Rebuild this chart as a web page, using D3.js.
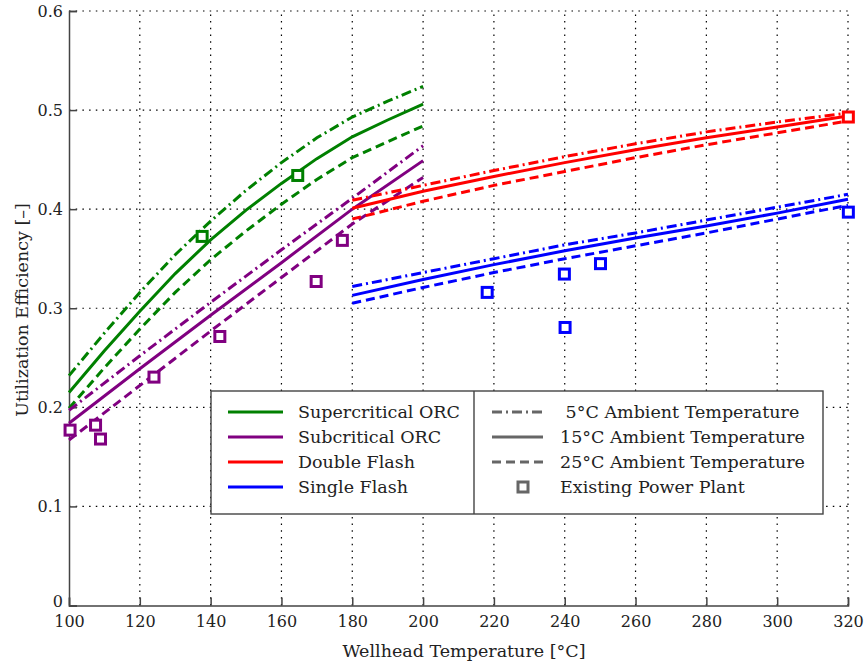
<!DOCTYPE html>
<html>
<head>
<meta charset="utf-8">
<script src="https://cdn.jsdelivr.net/npm/d3@7/dist/d3.min.js"></script>
<style>
    body { margin: 0; background: #fff; }
    svg text {
        font-family: "DejaVu Serif", "Liberation Serif", serif;
        fill: #222;
    }
    .grid line {
        stroke: #000;
        stroke-width: 1.2;
        stroke-dasharray: 1.5,5.2;
    }
    .axis-line {
        stroke: #444;
        stroke-width: 1.5;
        fill: none;
    }
</style>
</head>
<body>
<svg id="svg" width="865" height="668"></svg>
<script>
// wellhead temperature (°C) for each model series
const orcTemps = [100, 110, 120, 130, 140, 150, 160, 170, 180, 190, 200];
const subTemps = [100, 120, 140, 160, 180, 200];
const flashTemps = [180, 200, 220, 240, 260, 280, 300, 320];

// utilization efficiency, by ambient temperature 5 / 15 / 25 °C
const superOrc5  = [0.232, 0.275, 0.316, 0.354, 0.388, 0.419, 0.447, 0.472, 0.493, 0.509, 0.524];
const superOrc15 = [0.215, 0.257, 0.297, 0.335, 0.369, 0.399, 0.426, 0.451, 0.473, 0.490, 0.506];
const superOrc25 = [0.199, 0.240, 0.279, 0.316, 0.349, 0.378, 0.405, 0.430, 0.452, 0.468, 0.484];

const subOrc5  = [0.197, 0.252, 0.306, 0.359, 0.411, 0.464];
const subOrc15 = [0.184, 0.239, 0.293, 0.346, 0.400, 0.449];
const subOrc25 = [0.167, 0.222, 0.277, 0.331, 0.385, 0.432];

const doubleFlash5  = [0.409, 0.424, 0.439, 0.453, 0.466, 0.478, 0.488, 0.497];
const doubleFlash15 = [0.401, 0.418, 0.433, 0.447, 0.460, 0.472, 0.483, 0.494];
const doubleFlash25 = [0.390, 0.408, 0.424, 0.438, 0.452, 0.465, 0.477, 0.489];

const singleFlash5  = [0.322, 0.336, 0.350, 0.364, 0.376, 0.389, 0.402, 0.415];
const singleFlash15 = [0.313, 0.329, 0.344, 0.358, 0.371, 0.383, 0.396, 0.410];
const singleFlash25 = [0.305, 0.321, 0.336, 0.350, 0.363, 0.376, 0.390, 0.404];

// existing power plants: [temperature, efficiency]
const plantsSuper = [[137.6, 0.3725], [164.6, 0.434]];
const plantsSub = [[100.3, 0.177], [107.5, 0.182], [108.9, 0.168], [124, 0.2305],
                   [142.6, 0.2715], [169.8, 0.327], [177.2, 0.3685]];
const plantsDouble = [[320.1, 0.493]];
const plantsSingle = [[218.1, 0.316], [239.9, 0.3345], [240.1, 0.2806], [250.1, 0.345], [320.1, 0.397]];

const xTicks = [100, 120, 140, 160, 180, 200, 220, 240, 260, 280, 300, 320];
const yTicks = [0, 0.1, 0.2, 0.3, 0.4, 0.5, 0.6];

const techNames = ['Supercritical ORC', 'Subcritical ORC', 'Double Flash', 'Single Flash'];
const techColors = ['#008000', '#800080', '#ff0000', '#0000ff'];
const ambientNames = ['\u00a05°C Ambient Temperature', '15°C Ambient Temperature', '25°C Ambient Temperature'];
const ambientDash = ['10,4,2,4', null, '9,5'];

const svg = d3.select('#svg');

const xScale = d3.scaleLinear().domain([100, 320]).range([69, 848]);
const yScale = d3.scaleLinear().domain([0, 0.6]).range([605.5, 11]);

// grid
const grid = svg.append('g').attr('class', 'grid');
grid.selectAll('.gx')
    .data(xTicks.slice(1))
    .enter().append('line')
    .attr('x1', d => xScale(d)).attr('x2', d => xScale(d))
    .attr('y1', yScale(0)).attr('y2', yScale(0.6));
grid.selectAll('.gy')
    .data(yTicks.slice(1))
    .enter().append('line')
    .attr('x1', xScale(100)).attr('x2', xScale(320))
    .attr('y1', d => yScale(d)).attr('y2', d => yScale(d));

// axes (ticks pointing inward, box off)
const xAxis = d3.axisBottom(xScale).tickValues(xTicks).tickSize(-8).tickPadding(4).tickFormat(d3.format('d'));
const yAxis = d3.axisLeft(yScale).tickValues(yTicks).tickSize(-8).tickPadding(6).tickFormat(d => d === 0 ? '0' : d3.format('.1f')(d));

const gx = svg.append('g').attr('transform', 'translate(0,' + yScale(0) + ')').call(xAxis);
const gy = svg.append('g').attr('transform', 'translate(' + xScale(100) + ',0)').call(yAxis);
[gx, gy].forEach(g => {
    g.select('.domain').attr('class', 'axis-line');
    g.selectAll('.tick line').attr('stroke', '#444').attr('stroke-width', 1.5);
    g.selectAll('.tick text').attr('font-size', 16).attr('fill', '#222')
        .style('font-family', '"DejaVu Serif", serif');
});
gx.selectAll('.tick text').attr('dy', '1.1em');
gy.selectAll('.tick text').attr('x', -6);
// keep the y "0" clear of the x "100"
gy.selectAll('.tick').filter(d => d === 0).select('text').attr('dy', '0.05em');

// model curves
const line = d3.line().x(d => xScale(d[0])).y(d => yScale(d[1]));
const zip = (ts, vs) => ts.map((t, i) => [t, vs[i]]);

const series = [
    {temps: orcTemps, vals: [superOrc5, superOrc15, superOrc25], color: techColors[0]},
    {temps: subTemps, vals: [subOrc5, subOrc15, subOrc25], color: techColors[1]},
    {temps: flashTemps, vals: [doubleFlash5, doubleFlash15, doubleFlash25], color: techColors[2]},
    {temps: flashTemps, vals: [singleFlash5, singleFlash15, singleFlash25], color: techColors[3]},
];

const curves = svg.append('g');
series.forEach(s => {
    s.vals.forEach((v, k) => {
        curves.append('path')
            .attr('d', line(zip(s.temps, v)))
            .attr('fill', 'none')
            .attr('stroke', s.color)
            .attr('stroke-width', 3)
            .attr('stroke-dasharray', ambientDash[k]);
    });
});

// existing plants
const plantSets = [plantsSuper, plantsSub, plantsDouble, plantsSingle];
plantSets.forEach((pts, i) => {
    svg.append('g').selectAll('rect')
        .data(pts)
        .enter().append('rect')
        .attr('x', d => xScale(d[0]) - 5)
        .attr('y', d => yScale(d[1]) - 5)
        .attr('width', 10).attr('height', 10)
        .attr('fill', '#fff')
        .attr('stroke', techColors[i])
        .attr('stroke-width', 3);
});

// legend
const legend = svg.append('g');
legend.append('rect')
    .attr('x', 211).attr('y', 391)
    .attr('width', 612).attr('height', 123)
    .attr('fill', '#fff').attr('stroke', '#444').attr('stroke-width', 1.4);
legend.append('line')
    .attr('x1', 474).attr('x2', 474).attr('y1', 391).attr('y2', 514)
    .attr('stroke', '#444').attr('stroke-width', 1.4);

const rowY = i => 412 + i * 25;

techNames.forEach((name, i) => {
    legend.append('line')
        .attr('x1', 228).attr('x2', 283)
        .attr('y1', rowY(i)).attr('y2', rowY(i))
        .attr('stroke', techColors[i]).attr('stroke-width', 3);
    legend.append('text')
        .attr('x', 298).attr('y', rowY(i)).attr('dy', '0.35em')
        .attr('font-size', 17.5)
        .text(name);
});

ambientNames.forEach((name, i) => {
    legend.append('line')
        .attr('x1', 492).attr('x2', 543)
        .attr('y1', rowY(i)).attr('y2', rowY(i))
        .attr('stroke', '#666').attr('stroke-width', 3)
        .attr('stroke-dasharray', ambientDash[i]);
    legend.append('text')
        .attr('x', 560).attr('y', rowY(i)).attr('dy', '0.35em')
        .attr('font-size', 17.5)
        .text(name);
});
legend.append('rect')
    .attr('x', 518).attr('y', rowY(3) - 5)
    .attr('width', 10).attr('height', 10)
    .attr('fill', '#fff').attr('stroke', '#666').attr('stroke-width', 3);
legend.append('text')
    .attr('x', 560).attr('y', rowY(3)).attr('dy', '0.35em')
    .attr('font-size', 17.5)
    .text('Existing Power Plant');

// axis titles
svg.append('text')
    .attr('x', 464).attr('y', 651).attr('dy', '0.35em')
    .attr('text-anchor', 'middle')
    .attr('font-size', 17.5)
    .text('Wellhead Temperature [°C]');
svg.append('text')
    .attr('transform', 'translate(22,310) rotate(-90)')
    .attr('dy', '0.35em')
    .attr('text-anchor', 'middle')
    .attr('font-size', 17.5)
    .text('Utilization Efficiency [\u2013]');
</script>
</body>
</html>
